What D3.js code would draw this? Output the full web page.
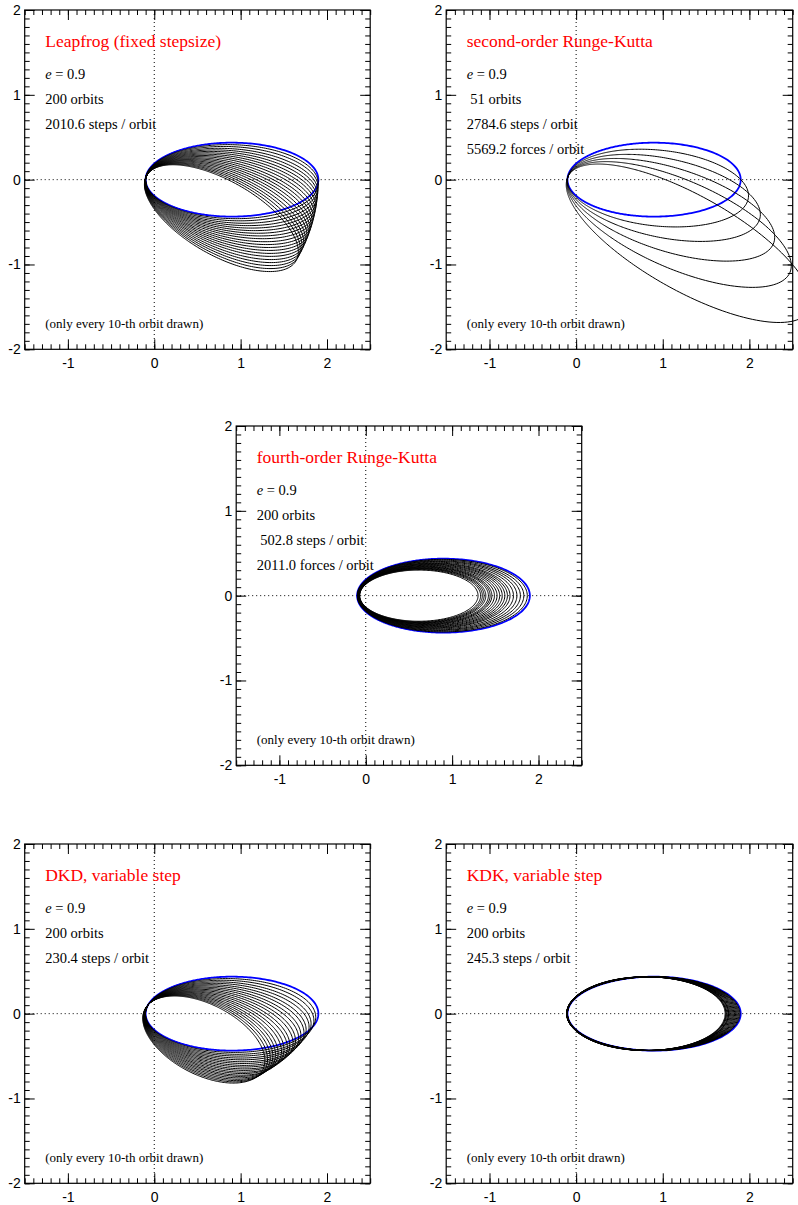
<!DOCTYPE html>
<html>
<head>
<meta charset="utf-8">
<script src="https://cdn.jsdelivr.net/npm/d3@7"></script>
<style>
  html, body { margin: 0; padding: 0; background: #fff; }
  svg { display: block; }
  .tick text { font-family: "Liberation Sans", Arial, Helvetica, sans-serif; font-size: 14px; fill: #000; }
  .note { font-family: "Liberation Serif", "Times New Roman", Times, serif; font-size: 14.5px; fill: #000; white-space: pre; }
  .title { font-family: "Liberation Serif", "Times New Roman", Times, serif; font-size: 17.5px; fill: #ff0000; }
  .foot { font-family: "Liberation Serif", "Times New Roman", Times, serif; font-size: 13px; fill: #000; }
</style>
</head>
<body>
<svg id="fig" width="798" height="1205"></svg>
<script>
// Axis ranges and labelled ticks shared by all five panels
const xDomain = [-1.5, 2.5];
const yDomain = [-2, 2];
const xTicks = [-1, 0, 1, 2];
const yTicks = [-2, -1, 0, 1, 2];

// Exact Kepler orbit: eccentricity and semi-major axis
const refEcc = 0.9;
const refAxis = 1.0;

// Every 10th integrated orbit: apsidal tilt (deg, clockwise), pericentre and apocentre distance
const leapfrogTilt = [1.5, 3.0, 4.6, 6.1, 7.6, 9.1, 10.6, 12.1, 13.6, 15.2, 16.7, 18.2, 19.7, 21.2, 22.7, 24.3, 25.8, 27.3, 28.8, 30.3];
const leapfrogPeri = [0.1, 0.1, 0.1, 0.1, 0.1, 0.1, 0.1, 0.1, 0.1, 0.1, 0.1, 0.1, 0.1, 0.1, 0.1, 0.1, 0.1, 0.1, 0.1, 0.1];
const leapfrogApo  = [1.9, 1.9, 1.9, 1.9, 1.9, 1.9, 1.9, 1.9, 1.9, 1.9, 1.9, 1.9, 1.9, 1.9, 1.9, 1.9, 1.9, 1.9, 1.9, 1.9];

const rk2Tilt = [6, 12, 18, 24, 30];
const rk2Peri = [0.1, 0.1, 0.1, 0.1, 0.1];
const rk2Apo  = [2.0, 2.17, 2.4, 2.7, 3.1];

const rk4Tilt = [0, 0, 0, 0, 0, 0, 0, 0, 0, 0, 0, 0, 0, 0, 0, 0, 0, 0, 0, 0];
const rk4Peri = [0.098, 0.096, 0.094, 0.093, 0.091, 0.089, 0.088, 0.086, 0.085, 0.083, 0.082, 0.080, 0.079, 0.078, 0.076, 0.075, 0.074, 0.073, 0.071, 0.070];
const rk4Apo  = [1.87, 1.83, 1.79, 1.75, 1.71, 1.67, 1.64, 1.61, 1.58, 1.55, 1.52, 1.49, 1.46, 1.44, 1.42, 1.39, 1.37, 1.35, 1.33, 1.30];

const dkdTilt = [1.4, 2.8, 4.2, 5.6, 7.0, 8.4, 9.8, 11.2, 12.6, 14.0, 15.4, 16.8, 18.2, 19.6, 21.0, 22.4, 23.8, 25.2, 26.6, 28.0];
const dkdPeri = [0.101, 0.102, 0.103, 0.104, 0.105, 0.106, 0.107, 0.108, 0.109, 0.110, 0.111, 0.112, 0.113, 0.114, 0.115, 0.116, 0.117, 0.118, 0.119, 0.120];
const dkdApo  = [1.87, 1.85, 1.82, 1.80, 1.77, 1.75, 1.72, 1.70, 1.67, 1.65, 1.62, 1.60, 1.57, 1.55, 1.52, 1.50, 1.48, 1.46, 1.44, 1.42];

const kdkTilt = [0, 0, 0, 0, 0, 0, 0, 0, 0, 0, 0, 0, 0, 0, 0, 0, 0, 0, 0, 0];
const kdkPeri = [0.100, 0.101, 0.101, 0.102, 0.102, 0.103, 0.103, 0.104, 0.104, 0.105, 0.105, 0.106, 0.106, 0.107, 0.107, 0.108, 0.108, 0.109, 0.109, 0.110];
const kdkApo  = [1.89, 1.88, 1.87, 1.86, 1.85, 1.84, 1.83, 1.82, 1.81, 1.80, 1.79, 1.78, 1.77, 1.76, 1.76, 1.75, 1.74, 1.73, 1.73, 1.72];

// Panel captions
const leapfrogTitle = "Leapfrog (fixed stepsize)";
const leapfrogNotes = ["200 orbits", "2010.6 steps / orbit"];
const rk2Title = "second-order Runge-Kutta";
const rk2Notes = [" 51 orbits", "2784.6 steps / orbit", "5569.2 forces / orbit"];
const rk4Title = "fourth-order Runge-Kutta";
const rk4Notes = ["200 orbits", " 502.8 steps / orbit", "2011.0 forces / orbit"];
const dkdTitle = "DKD, variable step";
const dkdNotes = ["200 orbits", "230.4 steps / orbit"];
const kdkTitle = "KDK, variable step";
const kdkNotes = ["200 orbits", "245.3 steps / orbit"];
const footNote = "(only every 10-th orbit drawn)";

// Panel frames in page pixels
const layout = [
  { left: 24.7, right: 370.2, top: 10, bottom: 349.3, title: leapfrogTitle, notes: leapfrogNotes, tilt: leapfrogTilt, peri: leapfrogPeri, apo: leapfrogApo },
  { left: 446.2, right: 792.7, top: 10, bottom: 349.3, title: rk2Title, notes: rk2Notes, tilt: rk2Tilt, peri: rk2Peri, apo: rk2Apo },
  { left: 236.2, right: 581.7, top: 426, bottom: 765.3, title: rk4Title, notes: rk4Notes, tilt: rk4Tilt, peri: rk4Peri, apo: rk4Apo },
  { left: 24.7, right: 370.2, top: 844, bottom: 1183.3, title: dkdTitle, notes: dkdNotes, tilt: dkdTilt, peri: dkdPeri, apo: dkdApo },
  { left: 446.2, right: 792.7, top: 844, bottom: 1183.3, title: kdkTitle, notes: kdkNotes, tilt: kdkTilt, peri: kdkPeri, apo: kdkApo }
];

const svg = d3.select("#fig");

// Points along a Kepler ellipse with its focus at the origin; the
// pericentre lies on the negative x side, turned clockwise by tiltDeg.
function keplerOrbit(tiltDeg, peri, apo) {
  const ecc = (apo - peri) / (apo + peri);
  const semiLatus = 2 * peri * apo / (apo + peri);
  const periDir = Math.PI - tiltDeg * Math.PI / 180;
  return d3.range(0, 721).map(i => {
    const nu = i / 720 * 2 * Math.PI;
    const r = semiLatus / (1 + ecc * Math.cos(nu));
    return [r * Math.cos(periDir + nu), r * Math.sin(periDir + nu)];
  });
}

layout.forEach(p => {
  const x = d3.scaleLinear().domain(xDomain).range([p.left, p.right]);
  const y = d3.scaleLinear().domain(yDomain).range([p.bottom, p.top]);
  const g = svg.append("g");
  const line = d3.line().x(d => x(d[0])).y(d => y(d[1]));

  // dotted zero lines
  g.append("line")
    .attr("x1", p.left).attr("x2", p.right)
    .attr("y1", y(0)).attr("y2", y(0))
    .attr("stroke", "#000").attr("stroke-width", 1)
    .attr("stroke-dasharray", "1,3");
  g.append("line")
    .attr("x1", x(0)).attr("x2", x(0))
    .attr("y1", p.top).attr("y2", p.bottom)
    .attr("stroke", "#000").attr("stroke-width", 1)
    .attr("stroke-dasharray", "1,3");

  // exact orbit
  g.append("path")
    .attr("d", line(keplerOrbit(0, refAxis * (1 - refEcc), refAxis * (1 + refEcc))))
    .attr("fill", "none").attr("stroke", "#0000ff").attr("stroke-width", 1.8);

  // integrated orbits
  g.append("g").selectAll("path")
    .data(p.tilt.map((t, i) => keplerOrbit(t, p.peri[i], p.apo[i])))
    .join("path")
    .attr("d", line)
    .attr("fill", "none").attr("stroke", "#000").attr("stroke-width", 1);

  // captions
  const tx = p.left + 20.5;
  g.append("text").attr("class", "title").attr("x", tx).attr("y", p.top + 37).text(p.title);
  const eLine = g.append("text").attr("class", "note").attr("x", tx).attr("y", p.top + 69);
  eLine.append("tspan").attr("font-style", "italic").text("e");
  eLine.append("tspan").text(" = " + refEcc.toFixed(1));
  g.append("g").selectAll("text")
    .data(p.notes)
    .join("text")
    .attr("class", "note")
    .attr("x", tx)
    .attr("y", (d, i) => p.top + 94 + i * 25)
    .text(d => d);
  g.append("text").attr("class", "foot").attr("x", tx).attr("y", p.bottom - 21).text(footNote);

  // axes: labelled major ticks, unlabelled minor ticks, ticks on all four sides pointing inward
  const minorX = x.ticks(40);
  const minorY = y.ticks(40);
  const axes = [
    [d3.axisBottom(x).tickValues(xTicks).tickSizeInner(-10).tickPadding(9).tickFormat(d3.format("d")), `translate(0,${p.bottom})`],
    [d3.axisBottom(x).tickValues(minorX).tickSizeInner(-5).tickFormat(""), `translate(0,${p.bottom})`],
    [d3.axisTop(x).tickValues(xTicks).tickSizeInner(-10).tickFormat(""), `translate(0,${p.top})`],
    [d3.axisTop(x).tickValues(minorX).tickSizeInner(-5).tickFormat(""), `translate(0,${p.top})`],
    [d3.axisLeft(y).tickValues(yTicks).tickSizeInner(-10).tickPadding(4).tickFormat(d3.format("d")), `translate(${p.left},0)`],
    [d3.axisLeft(y).tickValues(minorY).tickSizeInner(-5).tickFormat(""), `translate(${p.left},0)`],
    [d3.axisRight(y).tickValues(yTicks).tickSizeInner(-10).tickFormat(""), `translate(${p.right},0)`],
    [d3.axisRight(y).tickValues(minorY).tickSizeInner(-5).tickFormat(""), `translate(${p.right},0)`]
  ];
  axes.forEach(([ax, tr]) => {
    const a = g.append("g").attr("transform", tr).call(ax.tickSizeOuter(0));
    a.select(".domain").remove();
    a.selectAll(".tick line").attr("stroke", "#000").attr("stroke-width", 1);
  });
  // hyphen-style minus on negative labels
  g.selectAll(".tick text").text(function () { return this.textContent.replace("\u2212", "-"); });

  g.append("rect")
    .attr("x", p.left).attr("y", p.top)
    .attr("width", p.right - p.left).attr("height", p.bottom - p.top)
    .attr("fill", "none").attr("stroke", "#000").attr("stroke-width", 1.2);
});
</script>
</body>
</html>
